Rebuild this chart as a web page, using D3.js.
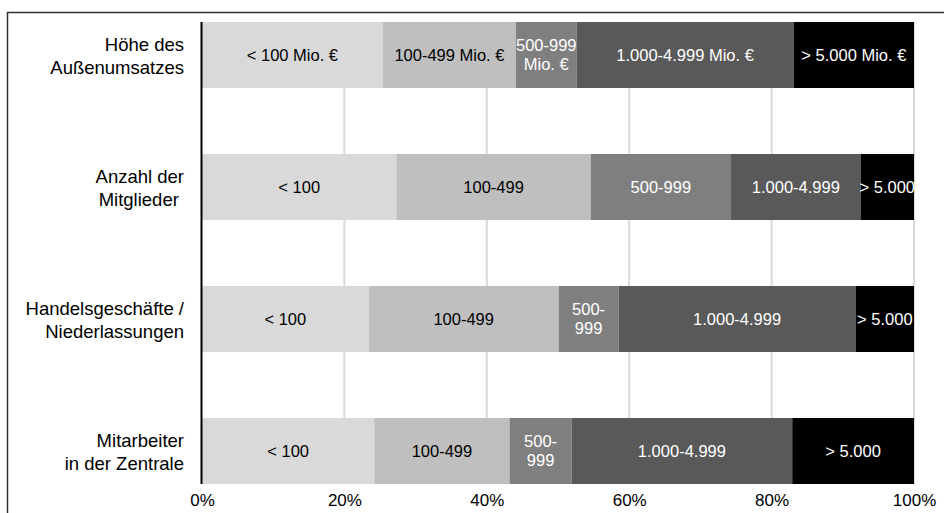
<!DOCTYPE html>
<html lang="de">
<head>
<meta charset="utf-8">
<script src="https://cdn.jsdelivr.net/npm/d3@7"></script>
<style>
  html, body { margin: 0; padding: 0; background: #fff; }
  svg { display: block; font-family: "Liberation Sans", Arial, Helvetica, sans-serif; }
</style>
</head>
<body>
<svg id="chart" width="944" height="513"></svg>
<script>
// Strukturmerkmale (Anteile in %)
const categories = [
  "Höhe des\nAußenumsatzes",
  "Anzahl der\nMitglieder\u00a0",
  "Handelsgeschäfte /\nNiederlassungen",
  "Mitarbeiter\nin der Zentrale"
];
const classKeys = ["k1", "k2", "k3", "k4", "k5"];

// Anteil je Größenklasse, in der Reihenfolge der Kategorien
const k1 = [25.4, 27.3, 23.4, 24.2];
const k2 = [18.7, 27.3, 26.7, 19.0];
const k3 = [8.5, 19.7, 8.4, 8.7];
const k4 = [30.5, 18.2, 33.3, 31.0];
const k5 = [16.9, 7.5, 8.2, 17.1];

// Beschriftungen der Segmente je Kategorie
const segLabels = [
  ["< 100 Mio. €", "100-499 Mio. €", "500-999\nMio. €", "1.000-4.999 Mio. €", "> 5.000 Mio. €"],
  ["< 100", "100-499", "500-999", "1.000-4.999", "> 5.000"],
  ["< 100", "100-499", "500-\n999", "1.000-4.999", "> 5.000"],
  ["< 100", "100-499", "500-\n999", "1.000-4.999", "> 5.000"]
];

const xTicks = [0, 20, 40, 60, 80, 100];

const fills = ["#d9d9d9", "#bfbfbf", "#7f7f7f", "#595959", "#000000"];
const textFills = ["#000000", "#000000", "#ffffff", "#ffffff", "#ffffff"];

const table = categories.map((c, i) => ({
  cat: c, idx: i, k1: k1[i], k2: k2[i], k3: k3[i], k4: k4[i], k5: k5[i]
}));

const svg = d3.select("#chart");

// Rahmen
svg.append("rect")
  .attr("x", 7.5).attr("y", 12.5)
  .attr("width", 1000).attr("height", 1000)
  .attr("fill", "none").attr("stroke", "#333").attr("stroke-width", 1.5);

const x = d3.scaleLinear().domain([0, 100]).range([202, 914]);
const y = d3.scaleBand().domain(categories).range([22, 484])
  .paddingInner(0.5).paddingOuter(0);

// Gitterlinien
svg.append("g")
  .selectAll("line")
  .data(xTicks.filter(t => t > 0))
  .join("line")
  .attr("x1", d => x(d)).attr("x2", d => x(d))
  .attr("y1", 22).attr("y2", 484)
  .attr("stroke", "#d9d9d9").attr("stroke-width", 2);

// Gestapelte Balken
const series = d3.stack().keys(classKeys)(table);

const layers = svg.append("g")
  .selectAll("g")
  .data(series)
  .join("g")
  .attr("fill", (d, i) => fills[i]);

layers.selectAll("rect")
  .data(d => d)
  .join("rect")
  .attr("x", d => x(d[0]))
  .attr("y", d => y(d.data.cat))
  .attr("width", d => x(d[1]) - x(d[0]))
  .attr("height", y.bandwidth());

// Segmentbeschriftungen
series.forEach((s, si) => {
  s.forEach(d => {
    const lines = segLabels[d.data.idx][si].split("\n");
    const cx = (x(d[0]) + x(d[1])) / 2;
    const cy = y(d.data.cat) + y.bandwidth() / 2;
    const lh = 19;
    const t = svg.append("text")
      .attr("text-anchor", "middle")
      .attr("font-size", 16.5)
      .attr("fill", textFills[si]);
    lines.forEach((ln, li) => {
      t.append("tspan")
        .attr("x", cx)
        .attr("y", cy + (li - (lines.length - 1) / 2) * lh)
        .attr("dy", "0.35em")
        .text(ln);
    });
  });
});

// Kategorieachse
const yAxis = svg.append("g");
yAxis.append("line")
  .attr("x1", 201.5).attr("x2", 201.5)
  .attr("y1", 22).attr("y2", 484)
  .attr("stroke", "#000").attr("stroke-width", 2);

categories.forEach(c => {
  const lines = c.split("\n");
  const cy = y(c) + y.bandwidth() / 2 + 1;
  const lh = 23.5;
  const t = yAxis.append("text")
    .attr("text-anchor", "end")
    .attr("font-size", 18.5)
    .attr("fill", "#000")
    .style("white-space", "pre");
  lines.forEach((ln, li) => {
    t.append("tspan")
      .attr("x", 184)
      .attr("y", cy + (li - (lines.length - 1) / 2) * lh)
      .attr("dy", "0.35em")
      .text(ln);
  });
});

// Prozentachse
const xAxis = d3.axisBottom(x)
  .tickValues(xTicks)
  .tickFormat(d => d + "%")
  .tickSize(0)
  .tickPadding(0);

const xg = svg.append("g")
  .attr("transform", "translate(0,494)")
  .call(xAxis);
xg.select(".domain").remove();
xg.selectAll("text")
  .attr("font-size", 17)
  .attr("font-family", "\"Liberation Sans\", Arial, sans-serif")
  .attr("fill", "#000")
  .attr("dy", "0.71em");
</script>
</body>
</html>
